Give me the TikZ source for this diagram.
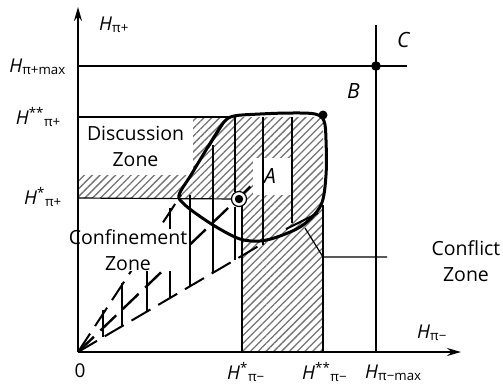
\documentclass[tikz,border=0pt]{standalone}
\usepackage{fontspec}
\setmainfont{Open Sans}
\usetikzlibrary{arrows.meta, patterns.meta}
\newcommand{\Hlab}[2]{\textit{H}\textsuperscript{#1}\textsubscript{#2}}

\begin{document}
\begin{tikzpicture}[x=1pt, y=-1pt,
    axis/.style={line width=1.8pt, -{Stealth[length=14pt, width=8pt]}},
    rule/.style={line width=1.2pt},
    level/.style={line width=1.6pt},
    border/.style={line width=3pt, line join=round},
    confine/.style={line width=2pt, dash pattern=on 22pt off 9pt},
    hatch/.style={pattern={Lines[angle=45, distance=5.5pt, line width=1.3pt]}, pattern color=black!55},
    hlabel/.style={font=\fontsize{19}{22}\selectfont, inner sep=0pt},
    ptlabel/.style={font=\fontsize{21}{24}\selectfont\itshape, inner sep=0pt},
    zone/.style={font=\fontsize{19.5}{26}\selectfont, align=center, inner sep=0pt}]
  \useasboundingbox (0,0) rectangle (503,384);

  % key points
  \coordinate (O) at (78,352);
  \coordinate (ytip) at (78,7);
  \coordinate (xtip) at (461,352);
  \coordinate (A) at (239,199);
  \coordinate (B) at (323,115);
  \coordinate (C) at (376,66);

  % hatched zones
  \fill[hatch] (78,117) -- (323,117) -- (323,352) -- (242,352) -- (242,198) -- (78,198) -- cycle;
  \node[fill=white, minimum width=39pt, minimum height=37pt, inner sep=0pt] (Abox) at (272.5,176.5) {};

  % confinement lines from the origin
  \draw[confine] (O) -- (181,195);
  \draw[confine] (O) -- (262,244);
  \draw[confine, line width=2.4pt] (O) -- (252,185);
  \foreach \x/\a/\b in {103/310/337, 122/283/326, 147/250/311, 170/208/298,
      190/195/287, 213/145/273, 235/207/260}
    \draw[rule] (\x,\a) -- (\x,\b);

  % zone names
  \node[zone, fill=white, minimum width=115pt, minimum height=58pt] (discussion) at (135.5,146) {Discussion\\Zone};
  \node[zone, fill=white] (confinement) at (128,250) {Confinement\\Zone};
  \node[zone] (conflict) at (466,261) {Conflict\\Zone};

  % levels
  \draw[rule] (78,117) -- (232,117);
  \draw[rule] (78,198) -- (A);
  \draw[rule] (235,117) -- (235,192);
  \draw[rule] (242,206) -- (242,352);
  \foreach \x/\b in {263/245, 292/223}
    \draw[rule] (\x,117) -- (\x,\b);
  \draw[rule] (323,205) -- (323,352);
  \draw[level] (78,66) -- (407,66);
  \draw[level] (376,25) -- (376,352);

  % agreement area
  \draw[border] plot[smooth cycle, tension=0.55] coordinates {
    (179,195) (191,175) (203,155) (214,137) (224,122) (234,116) (260,114)
    (290,113) (315,114) (324,121) (326,140) (326,175) (321,205) (303,225)
    (280,236) (260,241) (240,239) (218,228) (198,215) (184,204)};
  \draw[line width=2pt] (208,148) -- (223,124);
  \draw[line width=2pt] (286,229) -- (318,213);
  \draw[rule] (305,228) -- (323,257) -- (387,257);

  % points
  \node[circle, draw, line width=1.2pt, fill=white, minimum size=15pt, inner sep=0pt] (Acirc) at (A) {};
  \fill (Acirc.center) circle (4.2);
  \fill (B) circle (4.5);
  \fill (C) circle (4.8);

  % axes
  \draw[axis] (O) -- (ytip);
  \draw[axis] (O) -- (xtip);

  % labels
  \node[hlabel, anchor=base west] (Hpp) at (99,30) {\textit{H}\textsubscript{π+}};
  \node[hlabel, anchor=base east] (Hppmax) at (66,72) {\textit{H}\textsubscript{π+max}};
  \node[hlabel, anchor=base east] (Hpp2) at (61,124) {\Hlab{**}{π+}};
  \node[hlabel, anchor=base east] (Hpp1) at (62,204) {\Hlab{*}{π+}};
  \node[hlabel, anchor=base west] (Hpm) at (417,338) {\textit{H}\textsubscript{π−}};
  \node[hlabel, anchor=base west] (Hpm1) at (227,379) {\Hlab{*}{π−}};
  \node[hlabel, anchor=base west] (Hpm2) at (302,379) {\Hlab{**}{π−}};
  \node[hlabel, anchor=base west] (Hpmmax) at (365,378) {\textit{H}\textsubscript{π−max}};
  \node[hlabel, anchor=base] (zero) at (80,377) {0};
  \node[ptlabel, anchor=base west] (Alab) at (264,183) {A};
  \node[ptlabel, anchor=base west] (Blab) at (347,98) {B};
  \node[ptlabel, anchor=base west] (Clab) at (397,47) {C};
\end{tikzpicture}
\end{document}
